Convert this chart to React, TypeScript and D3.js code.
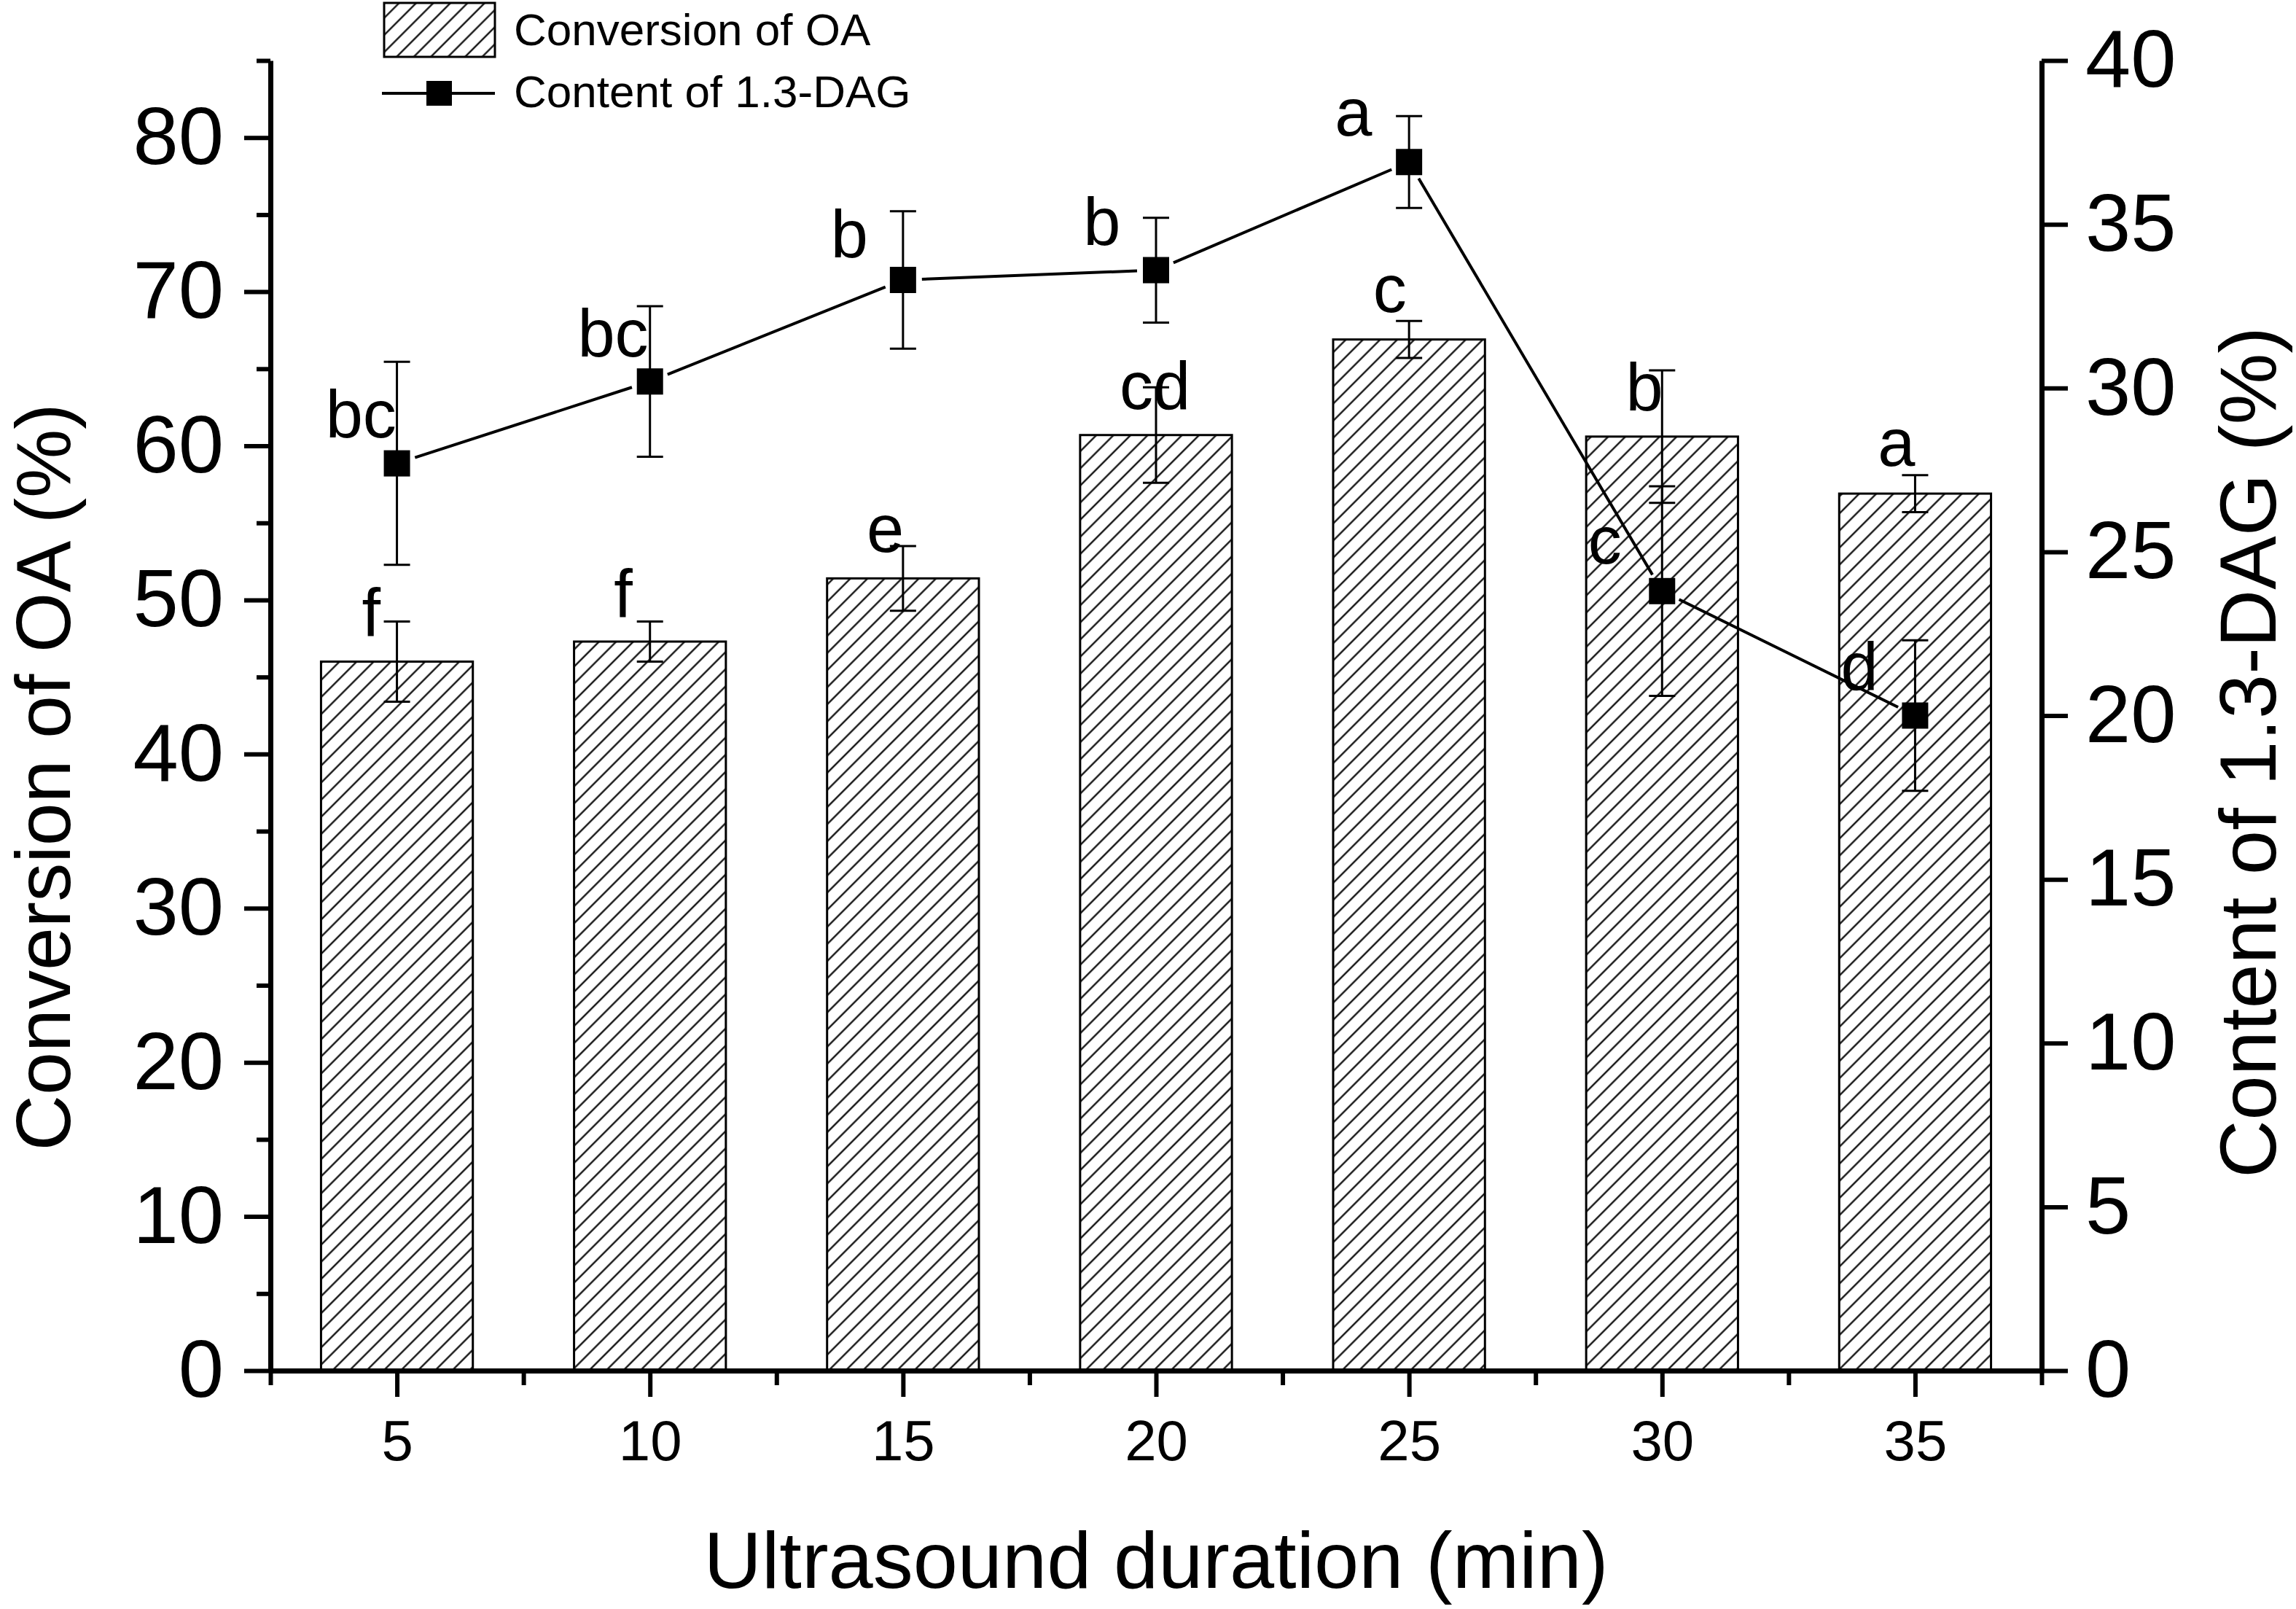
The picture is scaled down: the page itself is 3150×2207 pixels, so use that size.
import { useEffect, useRef } from 'react';
import * as d3 from 'd3';

// ultrasound duration (min)
const durations = [5, 10, 15, 20, 25, 30, 35];

// bars: conversion of OA (%), left axis
const conversionOA = [46.0, 47.3, 51.4, 60.7, 66.9, 60.6, 56.9];
const conversionErr = [2.6, 1.3, 2.1, 3.1, 1.2, 4.3, 1.2];
const barLetters = ['f', 'f', 'e', 'cd', 'c', 'b', 'a'];
// letter anchors in data units (min, %)
const barLetterX = [4.49, 9.47, 14.65, 19.98, 24.62, 29.65, 34.63];
const barLetterY = [47.7, 48.9, 53.1, 62.4, 68.7, 62.3, 58.7];

// line: content of 1.3-DAG (%), right axis
const dagContent = [27.7, 30.2, 33.3, 33.6, 36.9, 23.8, 20.0];
const dagErr = [3.1, 2.3, 2.1, 1.6, 1.4, 3.2, 2.3];
const lineLetters = ['bc', 'bc', 'b', 'b', 'a', 'c', 'd'];
const lineLetterX = [4.29, 9.27, 13.94, 18.93, 23.9, 28.87, 33.9];
const lineLetterY = [28.5, 30.96, 33.99, 34.36, 37.7, 24.64, 20.79];

const leftTicks = [0, 10, 20, 30, 40, 50, 60, 70, 80];
const leftMinor = [5, 15, 25, 35, 45, 55, 65, 75, 85];
const rightTicks = [0, 5, 10, 15, 20, 25, 30, 35, 40];
const xMinor = [2.5, 7.5, 12.5, 17.5, 22.5, 27.5, 32.5, 37.5];

const W = 3150;
const H = 2207;
const FONT = "'Liberation Sans', Arial, sans-serif";

const App = () => {
  const ref = useRef<SVGSVGElement | null>(null);

  useEffect(() => {
    if (!ref.current) return;
    const svg = d3.select(ref.current);
    svg.selectAll('*').remove();

    const x = d3.scaleLinear([2.5, 37.5], [371, 2801]);
    const yL = d3.scaleLinear([0, 85], [1880, 83]);
    const yR = d3.scaleLinear([0, 40], [1880, 83]);
    const barW = x(3) - x(0);

    // hatch pattern
    const defs = svg.append('defs');
    const pat = defs
      .append('pattern')
      .attr('id', 'hatch')
      .attr('patternUnits', 'userSpaceOnUse')
      .attr('width', 16.6)
      .attr('height', 16.6)
      .attr('patternTransform', 'rotate(45)');
    pat.append('rect').attr('width', 16.6).attr('height', 16.6).attr('fill', '#fff');
    pat
      .append('line')
      .attr('x1', 8.3)
      .attr('x2', 8.3)
      .attr('y1', 0)
      .attr('y2', 16.6)
      .attr('stroke', '#000')
      .attr('stroke-width', 2.2);

    // bars
    svg
      .append('g')
      .selectAll('rect')
      .data(durations)
      .join('rect')
      .attr('x', d => x(d) - barW / 2)
      .attr('y', (_, i) => yL(conversionOA[i]))
      .attr('width', barW)
      .attr('height', (_, i) => yL(0) - yL(conversionOA[i]))
      .attr('fill', 'url(#hatch)')
      .attr('stroke', '#000')
      .attr('stroke-width', 3);

    const errorBars = (vals: number[], errs: number[], y: d3.ScaleLinear<number, number>) => {
      const g = svg.append('g').attr('stroke', '#000').attr('stroke-width', 3);
      durations.forEach((d, i) => {
        const cx = x(d);
        const top = y(vals[i] + errs[i]);
        const bot = y(vals[i] - errs[i]);
        g.append('line').attr('x1', cx).attr('x2', cx).attr('y1', top).attr('y2', bot);
        g.append('line').attr('x1', cx - 18).attr('x2', cx + 18).attr('y1', top).attr('y2', top);
        g.append('line').attr('x1', cx - 18).attr('x2', cx + 18).attr('y1', bot).attr('y2', bot);
      });
    };
    errorBars(conversionOA, conversionErr, yL);

    // line with small gaps around the markers
    const pts = durations.map((d, i) => [x(d), yR(dagContent[i])]);
    const gap = 26;
    const lineG = svg.append('g').attr('stroke', '#000').attr('stroke-width', 4);
    for (let i = 0; i < pts.length - 1; i++) {
      const [x0, y0] = pts[i];
      const [x1, y1] = pts[i + 1];
      const len = Math.hypot(x1 - x0, y1 - y0);
      const ux = (x1 - x0) / len;
      const uy = (y1 - y0) / len;
      lineG
        .append('line')
        .attr('x1', x0 + ux * gap)
        .attr('y1', y0 + uy * gap)
        .attr('x2', x1 - ux * gap)
        .attr('y2', y1 - uy * gap);
    }
    errorBars(dagContent, dagErr, yR);

    svg
      .append('g')
      .selectAll('rect')
      .data(pts)
      .join('rect')
      .attr('x', p => p[0] - 18)
      .attr('y', p => p[1] - 18)
      .attr('width', 36)
      .attr('height', 36)
      .attr('fill', '#000');

    // significance letters
    const letters = svg
      .append('g')
      .attr('font-family', FONT)
      .attr('font-size', 92)
      .attr('text-anchor', 'middle');
    barLetters.forEach((t, i) => {
      letters.append('text').attr('x', x(barLetterX[i])).attr('y', yL(barLetterY[i])).text(t);
    });
    lineLetters.forEach((t, i) => {
      letters.append('text').attr('x', x(lineLetterX[i])).attr('y', yR(lineLetterY[i])).text(t);
    });

    // axes
    const styleAxis = (g: d3.Selection<SVGGElement, unknown, null, undefined>, size: number) => {
      g.attr('font-family', FONT).attr('font-size', size);
      g.selectAll('.tick line').attr('stroke-width', 6);
      g.select('.domain').attr('stroke-width', 7);
      g.selectAll('.tick text').attr('fill', '#000');
    };

    svg
      .append('g')
      .attr('transform', `translate(${x(2.5)},0)`)
      .call(d3.axisLeft(yL).tickValues(leftMinor).tickSize(19).tickSizeOuter(0).tickFormat(() => ''))
      .call(g => g.select('.domain').remove())
      .call(g => g.selectAll('.tick line').attr('stroke-width', 6));
    svg
      .append('g')
      .attr('transform', `translate(${x(2.5)},0)`)
      .call(d3.axisLeft(yL).tickValues(leftTicks).tickSize(36).tickPadding(28).tickSizeOuter(0))
      .call(g => styleAxis(g, 112));

    svg
      .append('g')
      .attr('transform', `translate(${x(37.5)},0)`)
      .call(d3.axisRight(yR).tickValues(rightTicks).tickSize(36).tickPadding(24).tickSizeOuter(0))
      .call(g => styleAxis(g, 112));

    svg
      .append('g')
      .attr('transform', `translate(0,${yL(0)})`)
      .call(d3.axisBottom(x).tickValues(xMinor).tickSize(20).tickSizeOuter(0).tickFormat(() => ''))
      .call(g => g.select('.domain').remove())
      .call(g => g.selectAll('.tick line').attr('stroke-width', 6));
    svg
      .append('g')
      .attr('transform', `translate(0,${yL(0)})`)
      .call(d3.axisBottom(x).tickValues(durations).tickSize(36).tickPadding(32).tickSizeOuter(0))
      .call(g => styleAxis(g, 78));

    // axis titles
    const titles = svg.append('g').attr('font-family', FONT).attr('text-anchor', 'middle').attr('fill', '#000');
    titles
      .append('text')
      .attr('transform', 'translate(96,1066) rotate(-90)')
      .attr('font-size', 106)
      .text('Conversion of OA (%)');
    titles
      .append('text')
      .attr('transform', 'translate(3122,1032) rotate(-90)')
      .attr('font-size', 110)
      .text('Content of 1.3-DAG (%)');
    titles
      .append('text')
      .attr('x', (x(2.5) + x(37.5)) / 2)
      .attr('y', 2178)
      .attr('font-size', 110)
      .text('Ultrasound duration (min)');

    // legend
    const legend = svg.append('g').attr('font-family', FONT).attr('font-size', 62);
    legend
      .append('rect')
      .attr('x', 527)
      .attr('y', 4)
      .attr('width', 152)
      .attr('height', 74)
      .attr('fill', 'url(#hatch)')
      .attr('stroke', '#000')
      .attr('stroke-width', 3);
    legend.append('text').attr('x', 705).attr('y', 62).text('Conversion of OA');
    legend
      .append('line')
      .attr('x1', 524)
      .attr('x2', 679)
      .attr('y1', 128)
      .attr('y2', 128)
      .attr('stroke', '#000')
      .attr('stroke-width', 4);
    legend.append('rect').attr('x', 585).attr('y', 111).attr('width', 35).attr('height', 34).attr('fill', '#000');
    legend.append('text').attr('x', 705).attr('y', 147).text('Content of 1.3-DAG');
  }, []);

  return (
    <svg
      ref={ref}
      width={W}
      height={H}
      viewBox={`0 0 ${W} ${H}`}
      style={{ position: 'absolute', left: 0, top: 0, background: '#fff' }}
    />
  );
};

export default App;
